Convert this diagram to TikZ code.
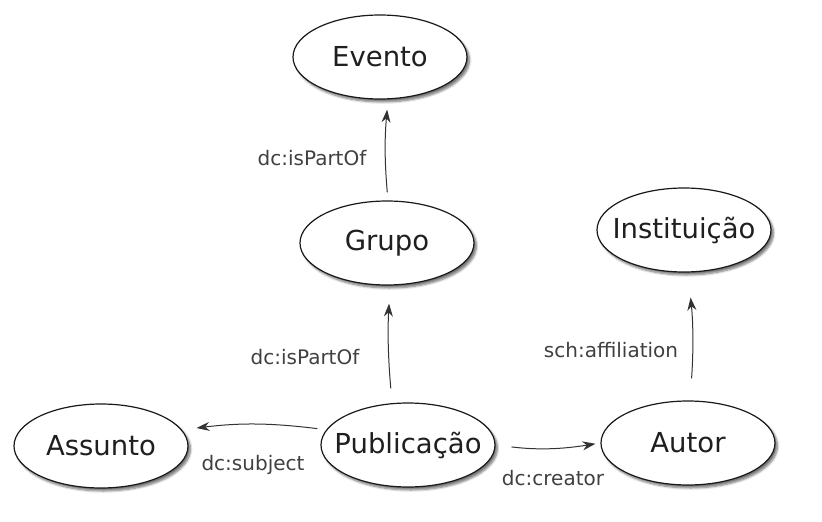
\documentclass[tikz,border=0pt]{standalone}
\usepackage{fontspec}
\setmainfont{DejaVu Sans}
\usetikzlibrary{shapes.geometric,arrows.meta,shadows.blur}
\begin{document}
\begin{tikzpicture}[x=1pt,y=-1pt,
  cls/.style={ellipse,draw=black!90,line width=1.2pt,fill=white,
    minimum width=174pt,minimum height=84pt,inner xsep=-25pt,inner ysep=0pt,
    font=\fontsize{27.5}{32}\selectfont,text=black!88,
    blur shadow={shadow xshift=2.5pt,shadow yshift=-3pt,shadow blur steps=6,shadow opacity=55}},
  arr/.style={draw=black!80,line width=1pt,-{Stealth[length=13pt,width=9pt]}},
  lbl/.style={font=\fontsize{20}{24}\selectfont,text=black!75,inner sep=0pt}]
\useasboundingbox (0,0) rectangle (822,522);
\node[cls] (evento) at (380,57) {Evento};
\node[cls] (grupo) at (387,243) {Grupo};
\node[cls] (inst) at (684,230) {Instituição};
\node[cls] (assunto) at (101,446) {Assunto};
\node[cls] (pub) at (408,445) {Publicação};
\node[cls] (autor) at (688,443) {Autor};

\draw[arr,shorten <=8pt,shorten >=10pt] ([xshift=1pt]grupo.north) to[bend left=5] ([xshift=8pt]evento.south);
\draw[arr,shorten <=14pt,shorten >=18pt] ([xshift=-16pt]pub.north) to[bend left=4] ([xshift=3pt]grupo.south);
\draw[arr,shorten <=22pt,shorten >=25pt] ([xshift=2pt]autor.north) to[bend right=5] ([xshift=4pt]inst.south);
\draw[arr,shorten <=3pt,shorten >=8pt] ([yshift=16pt]pub.west) to[bend right=7] ([yshift=17pt]assunto.east);
\draw[arr,shorten <=16pt,shorten >=5pt] (pub.east) to[bend right=8] (autor.west);

\node[lbl] (l1) at (312,158) {dc:isPartOf};
\node[lbl] (l2) at (305,357) {dc:isPartOf};
\node[lbl] (l3) at (611,350) {sch:affiliation};
\node[lbl] (l4) at (253,465) {dc:subject};
\node[lbl] (l5) at (553,478) {dc:creator};
\end{tikzpicture}
\end{document}
